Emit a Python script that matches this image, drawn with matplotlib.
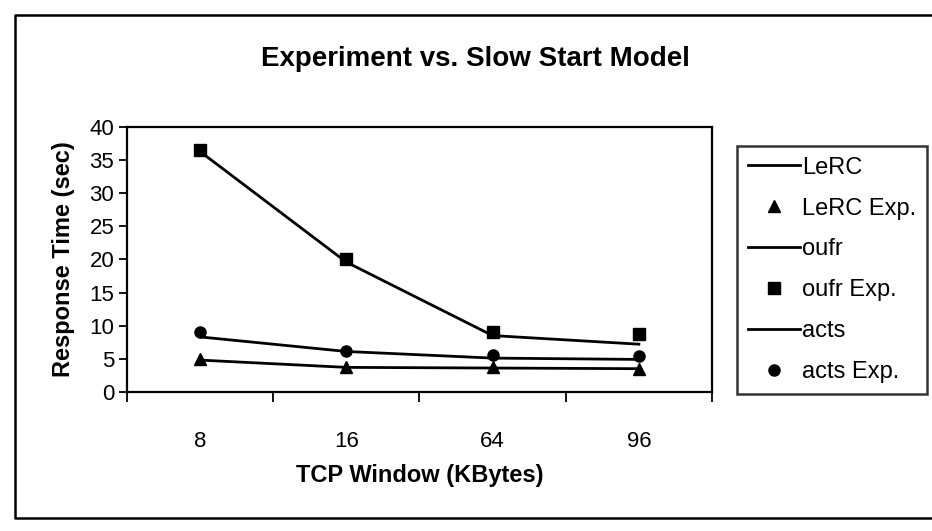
"""Experiment vs. Slow Start Model -- response time by TCP window size."""
import matplotlib
matplotlib.use("Agg")
import matplotlib.pyplot as plt
from matplotlib.lines import Line2D

plt.rcParams["font.family"] = ["Liberation Sans", "DejaVu Sans"]

windows = ["8", "16", "64", "96"]
lerc_model = [4.8, 3.7, 3.6, 3.5]
lerc_exp = [4.9, 3.8, 3.7, 3.5]
oufr_model = [36.3, 19.6, 8.5, 7.2]
oufr_exp = [36.5, 20.0, 9.1, 8.7]
acts_model = [8.3, 6.1, 5.1, 4.9]
acts_exp = [9.1, 6.2, 5.5, 5.4]

fig = plt.figure(figsize=(9.32, 5.31), dpi=100)
ax = fig.add_axes([0.136, 0.262, 0.628, 0.499])

xs = range(len(windows))
ax.plot(xs, lerc_model, color="black", lw=2, label="LeRC")
ax.plot(xs, lerc_exp, ls="none", marker="^", ms=9, color="black", label="LeRC Exp.")
ax.plot(xs, oufr_model, color="black", lw=2, label="oufr")
ax.plot(xs, oufr_exp, ls="none", marker="s", ms=8, color="black", label="oufr Exp.")
ax.plot(xs, acts_model, color="black", lw=2, label="acts")
ax.plot(xs, acts_exp, ls="none", marker="o", ms=8, color="black", label="acts Exp.")

ax.set_xlim(-0.5, len(windows) - 0.5)
ax.set_ylim(0, 40)
ax.set_yticks(range(0, 41, 5))
# Excel style: ticks sit between categories, labels under categories
ax.set_xticks([i - 0.5 for i in range(len(windows) + 1)])
ax.set_xticklabels([])
ax.set_xticks(list(xs), minor=True)
ax.set_xticklabels(windows, minor=True, fontsize=16)
ax.tick_params(axis="x", which="minor", length=0, pad=28)
ax.tick_params(axis="x", which="major", direction="out", length=7, width=1.3)
ax.tick_params(axis="y", direction="out", length=6, width=1.3, labelsize=16, pad=3)
for s in ax.spines.values():
    s.set_linewidth(1.6)

ax.set_xlabel("TCP Window (KBytes)", fontsize=17, fontweight="bold", labelpad=9)
ax.set_ylabel("Response Time (sec)", fontsize=17, fontweight="bold", labelpad=10)

fig.text(0.51, 0.888, "Experiment vs. Slow Start Model", ha="center", va="center",
         fontsize=20, fontweight="bold")

leg = ax.legend(loc="upper left", bbox_to_anchor=(0.791, 0.725),
                bbox_transform=fig.transFigure, fontsize=17, frameon=True,
                fancybox=False, handlelength=2.2, handletextpad=0.1,
                labelspacing=0.8, borderpad=0.45, borderaxespad=0,
                numpoints=1)
leg.get_frame().set_edgecolor("black")
leg.get_frame().set_linewidth(1.8)

# outer chart-area border (right edge runs off the page)
fig.add_artist(Line2D([1.0, 0.016, 0.016, 1.0],
                      [0.972, 0.972, 0.025, 0.025],
                      transform=fig.transFigure, color="black", lw=1.8))

fig.savefig("out.png", dpi=100, facecolor="white")
